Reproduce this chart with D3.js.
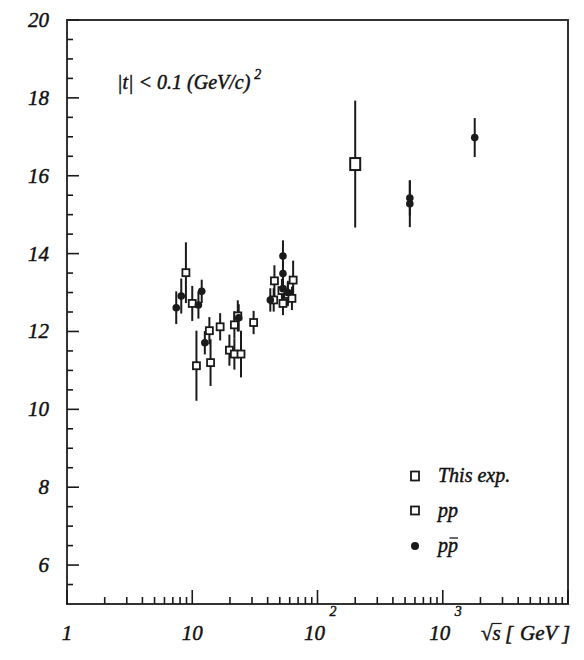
<!DOCTYPE html>
<html>
<head>
<meta charset="utf-8">
<script src="https://cdn.jsdelivr.net/npm/d3@7"></script>
<style>
  html, body { margin: 0; padding: 0; background: #fff; }
</style>
</head>
<body>
<svg id="chart" width="584" height="660"></svg>
<script>
// Slope parameter B (GeV/c)^-2 versus sqrt(s) [GeV]

// pp data (open markers)
const ppSqrtS = [8.9, 10.0, 10.8, 13.7, 14.0, 16.7, 19.8, 21.7, 21.7, 23.1, 24.5, 30.9,
                 44.7, 45.3, 52.0, 53.0, 58.0, 62.5, 63.9];
const ppB     = [13.51, 12.72, 11.12, 12.02, 11.20, 12.12, 11.52, 11.42, 12.17, 12.40, 11.42, 12.23,
                 12.81, 13.30, 13.05, 12.72, 12.95, 12.85, 13.32];
const ppErr   = [0.78, 0.45, 0.90, 0.35, 0.60, 0.35, 0.40, 0.40, 0.35, 0.40, 0.60, 0.30,
                 0.30, 0.40, 0.30, 0.30, 0.30, 0.30, 0.50];

// p-pbar data (filled markers)
const pbarSqrtS = [7.45, 8.17, 11.2, 11.9, 12.6, 23.5, 42.0, 53.0, 53.0, 53.0, 58.0, 546, 546, 1800];
const pbarB     = [12.61, 12.91, 12.68, 13.03, 11.71, 12.35, 12.81, 13.94, 13.49, 13.10, 13.00, 15.28, 15.43, 16.98];
const pbarErr   = [0.42, 0.45, 0.35, 0.30, 0.30, 0.35, 0.30, 0.40, 0.30, 0.30, 0.30, 0.60, 0.45, 0.50];

// this experiment
const expSqrtS = [200];
const expB     = [16.3];
const expErr   = [1.63];

// axis labels
const yTickLabels = [6, 8, 10, 12, 14, 16, 18, 20];
const xTickLabels = [
  { v: 1, base: "1", sup: "" },
  { v: 10, base: "10", sup: "" },
  { v: 100, base: "10", sup: "2" },
  { v: 1000, base: "10", sup: "3" }
];
const legendLabels = ["This exp.", "pp", "pp"];

const FONT = "'Liberation Serif', 'Times New Roman', Tinos, Times, 'DejaVu Serif', serif";

const svg = d3.select("#chart");
const L = 67, R = 568, T = 20, B = 604;

const x = d3.scaleLog().domain([1, 10000]).range([L, R]);
const y = d3.scaleLinear().domain([5, 20]).range([B, T]);

const ink = "#1a1a1a";

function label(sel) {
  return sel.attr("font-family", FONT).attr("font-style", "italic")
    .attr("fill", "#111").attr("stroke", "#111").attr("stroke-width", 0.45);
}

// frame
svg.append("rect").attr("x", L).attr("y", T).attr("width", R - L).attr("height", B - T)
  .attr("fill", "none").attr("stroke", "#333").attr("stroke-width", 2);

// x ticks (inward)
const xMinor = [];
for (let d = 1; d < 10000; d *= 10) for (let k = 2; k <= 9; k++) xMinor.push(d * k);
const xMajor = [1, 10, 100, 1000, 10000];
svg.append("g").selectAll("line").data(xMinor).join("line")
  .attr("x1", d => x(d)).attr("x2", d => x(d)).attr("y1", B).attr("y2", B - 7)
  .attr("stroke", ink).attr("stroke-width", 1.6);
svg.append("g").selectAll("line").data(xMajor).join("line")
  .attr("x1", d => x(d)).attr("x2", d => x(d)).attr("y1", B).attr("y2", B - 14)
  .attr("stroke", ink).attr("stroke-width", 1.6);

// y ticks (inward)
const yMinor = d3.range(5.5, 20, 0.5).filter(v => v % 2 !== 0);
svg.append("g").selectAll("line").data(yMinor).join("line")
  .attr("x1", L).attr("x2", L + 6).attr("y1", d => y(d)).attr("y2", d => y(d))
  .attr("stroke", ink).attr("stroke-width", 1.6);
svg.append("g").selectAll("line").data(yTickLabels).join("line")
  .attr("x1", L).attr("x2", L + 12).attr("y1", d => y(d)).attr("y2", d => y(d))
  .attr("stroke", ink).attr("stroke-width", 1.6);

// y labels
label(svg.append("g").selectAll("text").data(yTickLabels).join("text"))
  .attr("x", 49).attr("y", d => y(d) + 7)
  .attr("text-anchor", "end").attr("font-size", 21)
  .text(d => d);

// x labels
const xl = svg.append("g").selectAll("g").data(xTickLabels).join("g");
label(xl.append("text"))
  .attr("x", d => x(d.v) + (d.sup ? -3 : 0)).attr("y", 640)
  .attr("text-anchor", "middle").attr("font-size", 21)
  .text(d => d.base);
label(xl.filter(d => d.sup).append("text"))
  .attr("x", d => x(d.v) + 12).attr("y", 616)
  .attr("font-size", 14)
  .text(d => d.sup);

// axis title: sqrt(s) [ GeV ]
const titleParts = [["\u221As", 481], ["[", 505], ["GeV", 520], ["]", 562]];
const titleNodes = titleParts.map(([t, px]) =>
  label(svg.append("text")).attr("x", px).attr("y", 640).attr("font-size", 21).text(t));
const rootBox = titleNodes[0].node().getBBox();
svg.append("line")
  .attr("x1", rootBox.x + rootBox.width * 0.55).attr("x2", rootBox.x + rootBox.width + 1)
  .attr("y1", rootBox.y + 2.5).attr("y2", rootBox.y + 2.5)
  .attr("stroke", ink).attr("stroke-width", 1.2);

// annotation
const ann = label(svg.append("text")).attr("x", 117).attr("y", 89).attr("font-size", 20);
ann.append("tspan").text("|t| < 0.1 (GeV/c)");
ann.append("tspan").attr("dy", -10).attr("dx", 4).attr("font-size", 14).text("2");

// error bars
function errBars(sx, vy, ey) {
  svg.append("g").selectAll("line").data(sx).join("line")
    .attr("x1", (d) => x(d)).attr("x2", (d) => x(d))
    .attr("y1", (d, i) => y(vy[i] + ey[i])).attr("y2", (d, i) => y(vy[i] - ey[i]))
    .attr("stroke", ink).attr("stroke-width", 2);
}
errBars(pbarSqrtS, pbarB, pbarErr);
errBars(ppSqrtS, ppB, ppErr);
errBars(expSqrtS, expB, expErr);

// pp markers: small open squares
const sq = 7;
svg.append("g").selectAll("rect").data(ppSqrtS).join("rect")
  .attr("x", d => x(d) - sq / 2).attr("y", (d, i) => y(ppB[i]) - sq / 2)
  .attr("width", sq).attr("height", sq)
  .attr("fill", "#fff").attr("stroke", ink).attr("stroke-width", 1.8);

// p-pbar markers: filled dots
svg.append("g").selectAll("circle").data(pbarSqrtS).join("circle")
  .attr("cx", d => x(d)).attr("cy", (d, i) => y(pbarB[i])).attr("r", 3.8)
  .attr("fill", ink);

// this experiment: larger open square
svg.append("g").selectAll("rect").data(expSqrtS).join("rect")
  .attr("x", d => x(d) - 5).attr("y", (d, i) => y(expB[i]) - 6)
  .attr("width", 10).attr("height", 12)
  .attr("fill", "#fff").attr("stroke", ink).attr("stroke-width", 2);

// legend
const lg = svg.append("g");
const lgX = 415, lgTx = 438, lgY = [476, 511, 546];
lg.append("rect").attr("x", lgX - 4).attr("y", lgY[0] - 4.5).attr("width", 8).attr("height", 9)
  .attr("fill", "#fff").attr("stroke", ink).attr("stroke-width", 1.8);
lg.append("rect").attr("x", lgX - 4).attr("y", lgY[1] - 4.5).attr("width", 8).attr("height", 8)
  .attr("fill", "#fff").attr("stroke", ink).attr("stroke-width", 1.8);
lg.append("circle").attr("cx", lgX).attr("cy", lgY[2]).attr("r", 4).attr("fill", ink);
const lgText = legendLabels.map((t, i) =>
  label(lg.append("text")).attr("x", lgTx).attr("y", lgY[i] + 6).attr("font-size", 20).text(t));
// antiproton bar over the second p
const w = lgText[2].node().getComputedTextLength();
lg.append("line")
  .attr("x1", lgTx + w / 2 + 1.5).attr("x2", lgTx + w)
  .attr("y1", lgY[2] - 8).attr("y2", lgY[2] - 8)
  .attr("stroke", ink).attr("stroke-width", 1.3);
</script>
</body>
</html>
